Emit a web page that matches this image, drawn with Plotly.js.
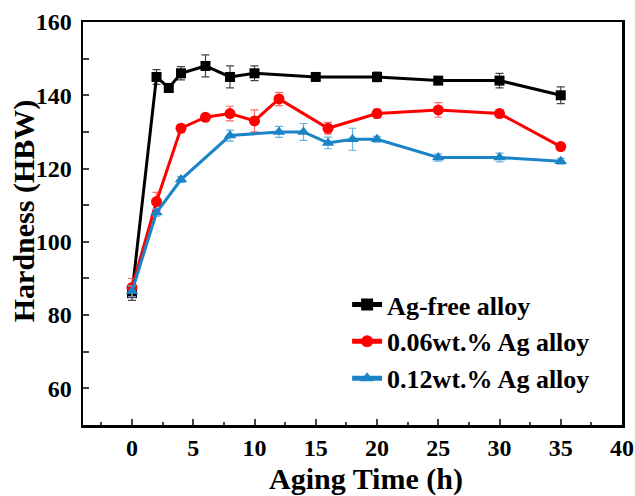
<!DOCTYPE html>
<html>
<head>
<meta charset="utf-8">
<script src="https://cdn.plot.ly/plotly-3.0.1.min.js"></script>
<style>html,body{margin:0;padding:0;background:#fff;}#chart{width:635px;height:496px;}</style>
</head>
<body>
<div id="chart"></div>
<script>
// Ag-free alloy
const xFree = [0, 2, 3, 4, 6, 8, 10, 15, 20, 25, 30, 35];
const yFree = [86, 145, 142, 146, 148, 145, 146, 145, 145, 144, 144, 140];
const eFree = [2, 2, 1.2, 1.8, 3, 3, 2, 0.6, 1.3, 0.8, 2, 2.3];
// 0.06wt.% Ag alloy
const x006 = [0, 2, 4, 6, 8, 10, 12, 16, 20, 25, 30, 35];
const y006 = [87.5, 111, 131, 134, 135, 133, 139, 131, 135, 136, 135, 126];
const e006 = [2.5, 2.5, 1, 0.8, 2, 3, 1.8, 1.6, 1.2, 2, 1, 0.8];
// 0.12wt.% Ag alloy
const x012 = [0, 2, 4, 8, 12, 14, 16, 18, 20, 25, 30, 35];
const y012 = [86.5, 108, 117, 129, 130, 130, 127, 128, 128, 123, 123, 122];
const e012 = [1.5, 1, 0.8, 1.5, 1.5, 2.3, 1.6, 3, 0.8, 1, 1.2, 0.8];

const names = ['Ag-free alloy', '0.06wt.% Ag alloy', '0.12wt.% Ag alloy'];
const xTitle = 'Aging Time (h)';
const yTitle = 'Hardness (HBW)';
const FONT = 'Liberation Serif, Times New Roman, serif';

function tr(x, y, e, name, color, ecolor, symbol, size) {
  return {
    x: x, y: y, name: name, type: 'scatter', mode: 'lines+markers',
    line: {color: color, width: 3},
    marker: {color: color, symbol: symbol, size: size},
    error_y: {type: 'data', array: e, visible: true, color: ecolor, thickness: 1.2, width: 4}
  };
}

const data = [
  tr(xFree, yFree, eFree, names[0], '#000000', '#444444', 'square', 10),
  tr(x006, y006, e006, names[1], '#ff0000', '#ff6a6a', 'circle', 11),
  tr(x012, y012, e012, names[2], '#1a84c7', '#6ab4e0', 'triangle-up', 11)
];

const layout = {
  width: 635, height: 496,
  margin: {l: 83, r: 13, t: 22, b: 71},
  paper_bgcolor: '#fff', plot_bgcolor: '#fff',
  font: {family: FONT, color: '#000'},
  showlegend: true,
  legend: {x: 0.49, y: 0.357, xanchor: 'left', yanchor: 'top', bgcolor: 'rgba(0,0,0,0)',
           itemsizing: 'constant',
           font: {family: FONT, size: 26, weight: 'bold'}, tracegroupgap: 0},
  xaxis: {
    range: [-4, 40], tick0: 0, dtick: 5, ticks: 'inside', ticklen: 6, tickwidth: 2,
    minor: {dtick: 2.5, tick0: 0, ticks: 'inside', ticklen: 3, tickwidth: 2},
    showline: true, linewidth: 2.5, linecolor: '#000', mirror: true,
    showgrid: false, zeroline: false,
    tickfont: {family: FONT, size: 24, weight: 'bold'}
  },
  yaxis: {
    range: [50, 160], tick0: 0, dtick: 20, ticks: 'inside', ticklen: 6, tickwidth: 2,
    minor: {dtick: 10, tick0: 0, ticks: 'inside', ticklen: 6, tickwidth: 2},
    showline: true, linewidth: 2.5, linecolor: '#000', mirror: true,
    showgrid: false, zeroline: false, ticklabelstandoff: 4,
    tickfont: {family: FONT, size: 24, weight: 'bold'}
  },
  annotations: [
    {text: xTitle, xref: 'paper', yref: 'paper', x: 0.525, y: -0.134, xanchor: 'center', yanchor: 'middle',
     showarrow: false, font: {family: FONT, size: 30, weight: 'bold'}},
    {text: yTitle, xref: 'paper', yref: 'paper', x: -0.109, y: 0.531, xanchor: 'center', yanchor: 'middle',
     textangle: -90, showarrow: false, font: {family: FONT, size: 30, weight: 'bold'}}
  ]
};

Plotly.newPlot('chart', data, layout, {displayModeBar: false, staticPlot: true});
</script>
</body>
</html>
